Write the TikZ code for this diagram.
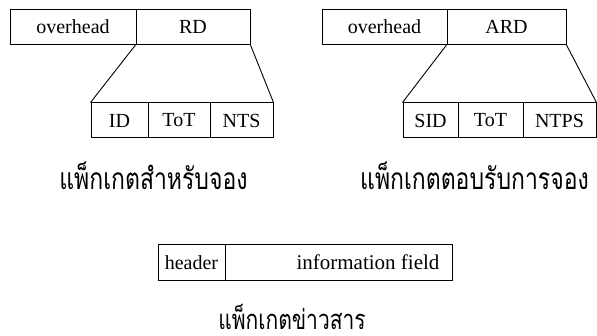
\documentclass[tikz,border=0pt]{standalone}
\usepackage{fontspec}
\setmainfont{Liberation Serif}
\newfontfamily\thaifont[Script=Thai]{Loma}
\newcommand{\tallthai}[1]{\raisebox{0pt}[\height][0pt]{\scalebox{1}[1.3]{#1}}}
\begin{document}
\begin{tikzpicture}[x=1pt,y=-1pt,
  field/.style={draw, line width=1pt, rectangle, minimum height=35pt, inner sep=0pt, font=\fontsize{20}{24}\selectfont},
  link/.style={line width=0.9pt},
  caption/.style={font=\thaifont\fontsize{23}{27}\selectfont, inner sep=0pt}]
\useasboundingbox (0,0) rectangle (597,336);
% left packet
\node[field, minimum width=126pt] (ov1) at (73,27) {overhead};
\node[field, minimum width=114pt] (rd) at (193,27) {RD};
\node[field, minimum width=57pt] (id) at (119.5,120.5) {ID};
\node[field, minimum width=62pt] (tot1) at (179,120.5) {ToT};
\node[field, minimum width=63pt] (nts) at (241.5,120.5) {NTS};
\draw[link] (rd.south west) -- (id.north west);
\draw[link] (rd.south east) -- (nts.north east);
\node[caption, anchor=base] (cap1) at (153.5,190) {\tallthai{แพ็กเกตสำหรับจอง}};
% right packet
\node[field, minimum width=125pt] (ov2) at (384.5,27) {overhead};
\node[field, minimum width=119pt] (ard) at (506.5,27) {ARD};
\node[field, minimum width=55pt] (sid) at (430.5,120.5) {SID};
\node[field, minimum width=65pt] (tot2) at (490.5,120.5) {ToT};
\node[field, minimum width=73pt] (ntps) at (559.5,120.5) {NTPS};
\draw[link] (ard.south west) -- (sid.north west);
\draw[link] (ard.south east) -- (ntps.north east);
\node[caption, anchor=base west] (cap2) at (360,190) {\tallthai{แพ็กเกตตอบรับการจอง}};
% bottom packet
\node[field, minimum width=67pt, minimum height=36pt] (hdr) at (191.5,262.5) {header};
\node[field, minimum width=227pt, minimum height=36pt] (info) at (338.5,262.5) {};
\node[font=\fontsize{21}{25}\selectfont, inner sep=0pt] (infotext) at (368,262.5) {information field};
\node[caption, font=\thaifont\fontsize{21}{25}\selectfont, anchor=base] (cap3) at (292,330) {\tallthai{แพ็กเกตข่าวสาร}};
\end{tikzpicture}
\end{document}
